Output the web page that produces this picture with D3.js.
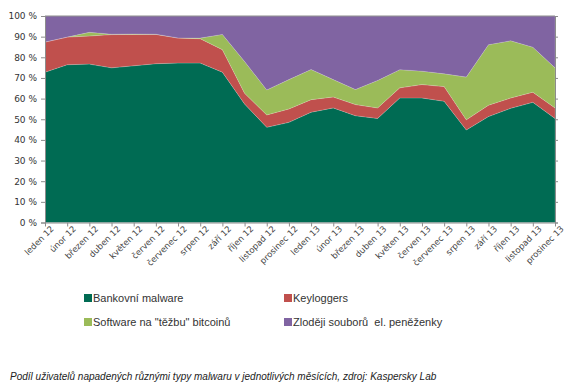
<!DOCTYPE html>
<html>
<head>
<meta charset="utf-8">
<script src="https://cdn.jsdelivr.net/npm/d3@7"></script>
<style>
  body { margin: 0; background: #fff; }
  svg { display: block; }
</style>
</head>
<body>
<script>
let months = ['leden 12', 'únor 12', 'březen 12', 'duben 12', 'květen 12', 'červen 12', 'červenec 12', 'srpen 12', 'září 12', 'říjen 12', 'listopad 12', 'prosinec 12',
  'leden 13', 'únor 13', 'březen 13', 'duben 13', 'květen 13', 'červen 13', 'červenec 13', 'srpen 13', 'září 13', 'říjen 13', 'listopad 13', 'prosinec 13']

let bankovni = [72.8, 76.4, 76.7, 74.9, 75.9, 76.9, 77.2, 77.2, 72.8, 57.4, 46.1, 48.5, 53.4, 55.5, 51.7, 50.4, 60.3, 60.3, 58.7, 44.8, 51.3, 55.3, 58.2, 50.4]
let keyloggers = [14.6, 13.4, 13.6, 16.1, 15.2, 14.2, 12.1, 11.8, 10.9, 5.2, 6.0, 6.5, 6.1, 5.3, 5.4, 5.1, 4.9, 6.5, 7.1, 4.9, 5.5, 5.0, 4.9, 5.1]
let bitcoin = [0, 0, 1.8, 0.2, 0.2, 0.1, 0.1, 0.3, 7.4, 15.4, 12.1, 14.2, 14.6, 8.4, 7.3, 13.3, 8.8, 6.5, 6.2, 20.7, 29.3, 27.7, 21.8, 19.4]
// zbytek do 100 %
let zlodeji = months.map((m, i) => +(100 - bankovni[i] - keyloggers[i] - bitcoin[i]).toFixed(1))

let seriesNames = ['Bankovní malware', 'Keyloggers', 'Software na "těžbu" bitcoinů', 'Zloději souborů  el. peněženky']
let colors = ['#006b53', '#c0504d', '#9bbb59', '#8064a2']
let yTicks = [0, 10, 20, 30, 40, 50, 60, 70, 80, 90, 100]
let caption = 'Podíl uživatelů napadených různými typy malwaru v jednotlivých měsících, zdroj: Kaspersky Lab'

let margin = { top: 16, left: 45, right: 27, bottom: 168 }
let width = 582, height = 390
let axisColor = '#8c8c8c'

let svg = d3.select('body').append('svg')
  .attr('width', width)
  .attr('height', height)

let x = d3.scalePoint().domain(months).range([margin.left, width - margin.right])
let y = d3.scaleLinear().domain([0, 100]).range([height - margin.bottom + 0.5, margin.top])

let table = months.map((m, i) => ({ month: m, b: bankovni[i], k: keyloggers[i], t: bitcoin[i], z: zlodeji[i] }))
let stack = d3.stack().keys(['b', 'k', 't', 'z'])(table)

let area = d3.area()
  .x(d => x(d.data.month))
  .y0(d => y(d[0]))
  .y1(d => y(d[1]))

svg.selectAll('path.layer')
  .data(stack)
  .join('path')
  .attr('class', 'layer')
  .attr('d', area)
  .attr('fill', (d, i) => colors[i])
  .attr('stroke', 'rgba(255,255,255,0.25)')
  .attr('stroke-width', 0.6)

// osa Y
let yAxis = svg.append('g')
  .attr('transform', 'translate(' + margin.left + ',0)')
  .call(d3.axisLeft(y).tickValues(yTicks).tickSize(4).tickPadding(4).tickFormat(d => d + ' %'))
yAxis.selectAll('text').attr('font-family', 'DejaVu Sans').attr('font-size', 9).attr('fill', '#333')

// pravý okraj s ryskami
svg.append('g')
  .attr('transform', 'translate(' + (width - margin.right) + ',0)')
  .call(d3.axisRight(y).tickValues(yTicks).tickSize(3).tickFormat(''))

// horní okraj
svg.append('line')
  .attr('x1', margin.left).attr('x2', width - margin.right)
  .attr('y1', y(100)).attr('y2', y(100))
  .attr('stroke', axisColor)

// osa X
let xAxis = svg.append('g')
  .attr('transform', 'translate(0,' + y(0) + ')')
  .call(d3.axisBottom(x).tickSize(4).tickSizeOuter(0))
xAxis.selectAll('text')
  .attr('font-family', 'DejaVu Sans')
  .attr('font-size', 8.5)
  .attr('fill', '#444')
  .attr('text-anchor', 'end')
  .attr('dy', 0)
  .attr('transform', 'translate(4,2) rotate(-45)')

svg.selectAll('.domain, .tick line').attr('stroke', axisColor)

// legenda
let legendPos = [[84, 298], [284, 298], [84, 322], [284, 322]]
let legend = svg.append('g')
seriesNames.forEach((name, i) => {
  legend.append('rect')
    .attr('x', legendPos[i][0]).attr('y', legendPos[i][1] - 4)
    .attr('width', 8).attr('height', 8)
    .attr('fill', colors[i])
  legend.append('text')
    .attr('x', legendPos[i][0] + 9).attr('y', legendPos[i][1] + 4)
    .attr('font-family', 'Liberation Sans')
    .attr('font-size', 11)
    .attr('fill', '#333')
    .style('white-space', 'pre')
    .text(name)
})

svg.append('text')
  .attr('x', 10).attr('y', 380)
  .attr('font-family', 'Liberation Sans')
  .attr('font-style', 'italic')
  .attr('font-size', 10)
  .attr('fill', '#222')
  .text(caption)
</script>
</body>
</html>
